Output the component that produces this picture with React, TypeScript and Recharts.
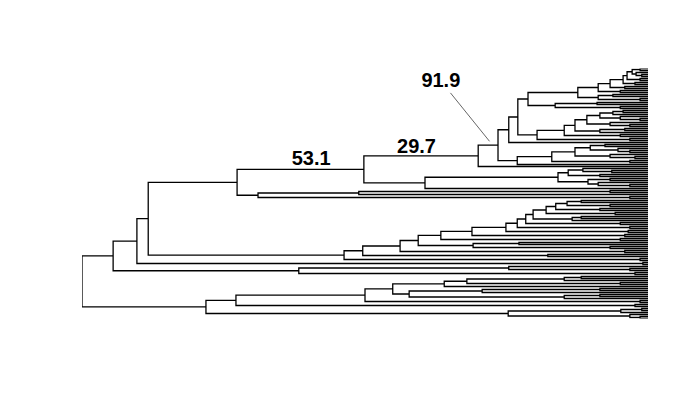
import React from "react";
import { ComposedChart, Line, Scatter, XAxis, YAxis } from "recharts";

// Tree in a compact Newick-like form: "*" is a tip, "(a,b)d" is a node at depth d (root 0, tips 100).
const I10 = "((*,*)98.6,(*,(*,*)98.9)97.9)97.2";
const I6 = `((((${I10},(*,*)98.6)96.3,(*,*)97.7)95.6,(*,*)95.9)93.3,(*,*)95.1)91.2`;
const I5 = `(${I6},((*,*)93.8,(*,*)98.6)91.2)87.6`;
const I4 = `(${I5},((*,*)91.0,(*,*)95.1)83.6)78.8`;
const I3g = "((*,*)95.6,*)93.8";
const I3f = `(${I3g},(*,(*,*)98.6)95.1)91.5`;
const I3e = `(${I3f},(*,(*,*)96.8)93.3)89.2`;
const I3d = `(${I3e},((*,*)95.9,*)91.5)87.1`;
const I3c = `(${I3d},(*,*)95.1)85.2`;
const I3 = `(${I4},(${I3c},(*,*)96.8)80.4)77.0`;
const I2 = `(${I3},*)75.4`;
const Xa2 = "((*,*)92.4,(*,(*,*)96.8)94.7)89.8";
const X = `((${Xa2},(*,(*,*)97.7)93.3)87.1,(*,*)96.8)83.0`;
const I1 = `(${I2},(${X},*)76.9)73.5`;
const I = `(${I1},*)70.0`;
const H = "((((*,(*,*)93.6)88.5,(*,*)91.5)85.9,((*,*)93.3,(*,(*,*)96.8)91.2)89.4)84.1,*)60.6";
const G = `(${I},${H})49.8`;
const F = "(((*,*)93.3,*)48.9,(*,*)96.8)31.1";
const E = `(${G},${F})27.4`;
const D10 = "((((*,*)88.2,(*,*)93.3)85.7,(*,*)91.5)83.7,(*,*)94.2)82.0";
const D9 = `(${D10},((*,*)88.2,*)86.6)79.7`;
const D6 = `(((${D9},(*,*)95.1)78.4,(*,*)96.8)76.9,(*,*)96.5)74.9`;
const D3 = `(((${D6},(*,*)95.9)68.9,(*,*)95.1)63.4,((*,*)77.2,(*,*)93.3)69.1)59.4`;
const D = `(((${D3},(*,*)95.9)56.2,(*,*)82.3)49.6,(*,*)98.6)46.3`;
const C = `(${E},${D})11.7`;
const A = `((${C},(*,*)99.1)9.7,((*,(*,*)96.8)75.4,(*,*)97.7)38.3)5.5`;
const N444 = "((((*,*)88.2,*)85.2,(*,*)95.1)68.0,*)64.0";
const N409 = "(((*,*)91.5,*)70.7,((*,*)91.5,*)85.2)57.8";
const K = `(((${N444},${N409})54.9,(*,*)98.6)50.0,(*,*)97.7)27.2`;
const J2 = "(((*,*)98.9,*)95.2,(*,(*,*)98.6)96.8)75.3";
const J = `(${K},${J2})21.9`;
const TREE = `(${A},${J})0`;

const nodeLabels = [
  { x: 40.5, y: 48, text: "53.1" },
  { x: 59.1, y: 42.3, text: "29.7" },
  { x: 63.4, y: 9, text: "91.9" },
];
const pointer = [
  { x: 65.1, y: 12.2 },
  { x: 72.0, y: 36.4 },
];

type Node = { x: number; y: number; kids: Node[] };

function parseTree(s: string): { root: Node; tips: number } {
  let i = 0;
  let leaf = 0;
  const node = (): Node => {
    if (s[i] === "*") {
      i++;
      return { x: 100, y: leaf++, kids: [] };
    }
    i++; // (
    const a = node();
    i++; // ,
    const b = node();
    i++; // )
    let j = i;
    while (j < s.length && /[0-9.]/.test(s[j])) j++;
    const x = parseFloat(s.slice(i, j));
    i = j;
    return { x, y: (a.y + b.y) / 2, kids: [a, b] };
  };
  const root = node();
  return { root, tips: leaf };
}

function segments(root: Node) {
  const out: { x: number; y: number | null }[] = [];
  const walk = (n: Node) => {
    if (!n.kids.length) return;
    const [a, b] = n.kids;
    out.push({ x: a.x, y: a.y }, { x: n.x, y: a.y }, { x: n.x, y: b.y }, { x: b.x, y: b.y }, { x: b.x, y: null });
    walk(a);
    walk(b);
  };
  walk(root);
  return out;
}

const { root, tips } = parseTree(TREE);
const treeData = segments(root);

const LabelShape = (props: any) => (
  <text
    x={props.cx}
    y={props.cy}
    textAnchor="middle"
    fontFamily="'Liberation Sans', Arial, sans-serif"
    fontWeight="bold"
    fontSize={20}
    fill="#000"
  >
    {props.payload.text}
  </text>
);

export default function App() {
  return (
    <div style={{ position: "absolute", left: 0, top: 0, width: 700, height: 400, background: "#fff" }}>
      <ComposedChart width={700} height={400} margin={{ top: 68.5, right: 52, bottom: 81.5, left: 82 }}>
        <XAxis type="number" dataKey="x" domain={[0, 100]} hide allowDataOverflow />
        <YAxis type="number" dataKey="y" domain={[0, tips - 1]} reversed hide allowDataOverflow />
        <Line
          data={treeData}
          dataKey="y"
          type="linear"
          stroke="#000"
          strokeWidth={1.3}
          dot={false}
          activeDot={false}
          connectNulls={false}
          isAnimationActive={false}
        />
        <Line
          data={pointer}
          dataKey="y"
          type="linear"
          stroke="#666"
          strokeWidth={1}
          dot={false}
          activeDot={false}
          isAnimationActive={false}
        />
        <Scatter data={nodeLabels} dataKey="y" shape={<LabelShape />} isAnimationActive={false} />
      </ComposedChart>
    </div>
  );
}
